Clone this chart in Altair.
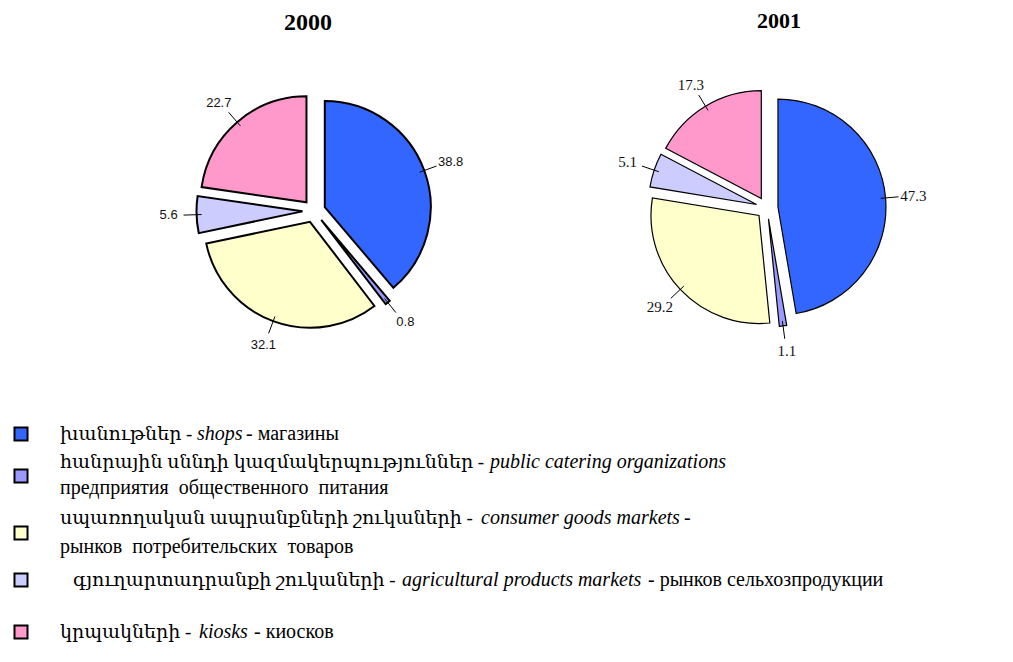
import altair as alt
import pandas as pd

# ---------------- data ----------------
years = ["2000", "2001"]
categories = ["shops", "catering", "consumer", "agricultural", "kiosks"]
values_2000 = [38.8, 0.8, 32.1, 5.6, 22.7]
values_2001 = [47.3, 1.1, 29.2, 5.1, 17.3]
colors = ["#3366FF", "#9999FF", "#FFFFCC", "#CCCCFF", "#FF99CC"]

# legend text: one list per legend line, segments (text, style) with
# style "arm" = Armenian, "rom" = roman serif, "it" = italic serif
legend_line_texts = [
    [("խանութներ -", "arm"), ("shops", "it"), ("- магазины", "rom")],
    [("հանրային սննդի կազմակերպություններ -", "arm"), ("public catering organizations", "it")],
    [("предприятия\u2002общественного\u2002питания", "rom")],
    [("սպառողական ապրանքների շուկաների -", "arm"), ("consumer goods markets", "it"), ("-", "rom")],
    [("рынков\u2002потребительских\u2002товаров", "rom")],
    [("գյուղարտադրանքի շուկաների -", "arm"), ("agricultural products markets", "it"),
     ("- рынков сельхозпродукции", "rom")],
    [("կրպակների -", "arm"), ("kiosks", "it"), ("- киосков", "rom")],
]

# ---------------- layout (page pixels; the body margin is subtracted) ----------------
M = 8
pie_layout = {
    "2000": dict(cx=314, cy=211, r=106, e=11.5, sw=2.0, font="Liberation Sans", fs=13,
                 tx=308, ty=23, tfs=24),
    "2001": dict(cx=767, cy=208, r=108, e=11.0, sw=1.2, font="Liberation Serif", fs=15,
                 tx=779, ty=21, tfs=22),
}
legend_square_x = 21
legend_square_y = [434, 476, 533, 580, 632]
legend_line_y = [434, 462, 488, 518, 547, 580, 632]
legend_seg_x = [
    [60, 197, 246],
    [60, 490],
    [60],
    [60, 481, 684],
    [60],
    [73, 402, 648],
    [60, 199, 254],
]

serif = "Liberation Serif, Times New Roman, DejaVu Serif, serif"
arm_font = "Liberation Serif, DejaVu Serif, serif"
seg_styles = {
    "arm": dict(font=arm_font, fontSize=19, fontStyle="normal"),
    "rom": dict(font=serif, fontSize=20, fontStyle="normal"),
    "it": dict(font=serif, fontSize=20, fontStyle="italic"),
}

# ---------------- tables ----------------
rows = []
for y, vals in zip(years, [values_2000, values_2001]):
    for i, (c, v) in enumerate(zip(categories, vals)):
        rows.append({"year": y, "category": c, "value": v, "order": i})
df = pd.DataFrame(rows)

color_scale = alt.Scale(domain=categories, range=colors)

layers = []
for year in years:
    L = pie_layout[year]
    cx, cy, r, e = L["cx"] - M, L["cy"] - M, L["r"], L["e"]
    base = (
        alt.Chart(df)
        .transform_filter(alt.datum.year == year)
        .transform_window(cum="sum(value)", sort=[alt.SortField("order")], frame=[None, 0])
        .transform_joinaggregate(total="sum(value)")
        .transform_calculate(
            t0="2*PI*(datum.cum-datum.value)/datum.total",
            t1="2*PI*datum.cum/datum.total",
        )
        .transform_calculate(tm="(datum.t0+datum.t1)/2")
        .transform_calculate(
            px=f"{cx}+{e}*sin(datum.tm)",
            py=f"{cy}-{e}*cos(datum.tm)",
            ax=f"{cx}+{e + r - 5}*sin(datum.tm)",
            ay=f"{cy}-{e + r - 5}*cos(datum.tm)",
            bx=f"{cx}+{e + r + 13}*sin(datum.tm)",
            by=f"{cy}-{e + r + 13}*cos(datum.tm)",
            lx=f"{cx}+{e + r + 28}*sin(datum.tm)",
            ly=f"{cy}-{e + r + 25}*cos(datum.tm)",
        )
    )
    arcs = base.mark_arc(radius=r, stroke="black", strokeWidth=L["sw"], opacity=1).encode(
        x=alt.X("px:Q", scale=None, axis=None),
        y=alt.Y("py:Q", scale=None, axis=None),
        theta=alt.Theta("t0:Q", scale=None, stack=None),
        theta2=alt.Theta2("t1:Q"),
        color=alt.Color("category:N", scale=color_scale, legend=None),
    )
    leaders = base.mark_rule(color="black", strokeWidth=1).encode(
        x=alt.X("ax:Q", scale=None, axis=None),
        y=alt.Y("ay:Q", scale=None, axis=None),
        x2="bx:Q",
        y2="by:Q",
    )
    labels = base.mark_text(font=L["font"], fontSize=L["fs"], color="#111",
                            align="center", baseline="middle").encode(
        x=alt.X("lx:Q", scale=None, axis=None),
        y=alt.Y("ly:Q", scale=None, axis=None),
        text=alt.Text("value:Q", format=".1f"),
    )
    title = alt.Chart(pd.DataFrame({"year": [year]})).mark_text(
        font=serif, fontSize=L["tfs"], fontWeight="bold", color="black",
        align="center", baseline="middle",
    ).encode(
        x=alt.value(L["tx"] - M), y=alt.value(L["ty"] - M), text="year:N"
    )
    layers += [arcs, leaders, labels, title]

# legend squares
leg_sq = pd.DataFrame({
    "category": categories,
    "sx": [legend_square_x - M] * len(categories),
    "sy": [v - M for v in legend_square_y],
})
squares = alt.Chart(leg_sq).mark_square(size=170, stroke="black", strokeWidth=2,
                                        opacity=1, filled=True).encode(
    x=alt.X("sx:Q", scale=None, axis=None),
    y=alt.Y("sy:Q", scale=None, axis=None),
    color=alt.Color("category:N", scale=color_scale, legend=None),
)
layers.append(squares)

seg_rows = []
for line, xs, yv in zip(legend_line_texts, legend_seg_x, legend_line_y):
    for (txt, st), xv in zip(line, xs):
        seg_rows.append({"text": txt, "style": st, "x": xv - M, "y": yv - M})
seg_df = pd.DataFrame(seg_rows)

for st, props in seg_styles.items():
    layers.append(
        alt.Chart(seg_df).transform_filter(alt.datum.style == st).mark_text(
            color="black", align="left", baseline="middle", **props
        ).encode(
            x=alt.X("x:Q", scale=None, axis=None),
            y=alt.Y("y:Q", scale=None, axis=None),
            text="text:N",
        )
    )

chart = alt.layer(*layers).properties(
    width=997, height=646, padding=0,
    autosize=alt.AutoSizeParams(type="none"),
).configure_view(stroke=None)

chart.save("out.html", embed_options={"renderer": "svg", "actions": False})
